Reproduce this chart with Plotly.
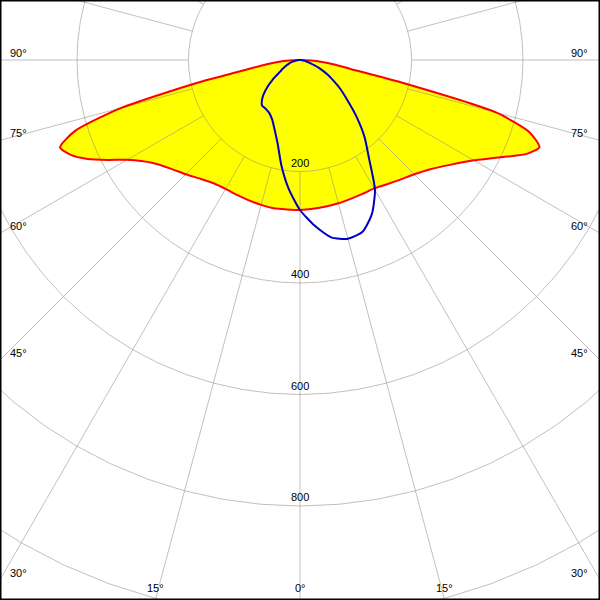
import numpy as np
import plotly.graph_objects as go

# Gamma angles (degrees from nadir)
gamma = [0, 5, 10, 15, 20, 25, 30, 35, 40, 45, 50, 55, 60, 62.5, 65, 67.5,
         70, 72.5, 75, 77.5, 80, 82.5, 85, 87.5, 90]

# Luminous intensity (cd) per half-plane
c0 = [269, 268, 267, 266, 265, 265, 266, 272, 280, 290, 305, 328, 360, 383, 410, 440,
      457, 432, 365, 185, 92, 62, 40, 20, 0]
c180 = [269, 269, 270, 269, 268, 267, 267, 270, 278, 290, 303, 322, 358, 388, 420, 445,
        458, 423, 332, 190, 95, 62, 40, 20, 0]
c90 = [269, 298, 323, 332, 328, 305, 269, 216, 180, 143, 110, 86, 64, 55, 45, 36,
       27, 21, 16, 12, 9, 6, 4, 2, 0]
c270 = [269, 232, 192, 155, 133, 118, 110, 107, 106, 95, 77, 58, 40, 36, 31, 27,
        23, 20, 17, 13, 10, 7, 5, 2, 0]

ring_values = [200, 400, 600, 800, 1000, 1200]
ring_labels = ["200", "400", "600", "800"]
side_angles = [90, 75, 60, 45, 30]
bottom_angles = [-15, 0, 15]

# view geometry (px per cd, center in pixels)
S = 0.5575
XMAX = 300 / S
YTOP = 60 / S
YBOT = 540 / S


def half(vals, sign):
    g = np.radians(np.array(gamma))
    r = np.array(vals, dtype=float)
    return sign * r * np.sin(g), -r * np.cos(g)


def plane(right_vals, left_vals):
    xr, yr = half(right_vals, 1)
    xl, yl = half(left_vals, -1)
    x = np.concatenate([xl[::-1], xr[1:]])
    y = np.concatenate([yl[::-1], yr[1:]])
    return x, y


fig = go.Figure()

xr_, yr_ = plane(c0, c180)
fig.add_trace(go.Scatter(x=xr_, y=yr_, mode="lines", fill="toself",
                         fillcolor="#FFFF00", line=dict(width=0, shape="spline", smoothing=0.6),
                         hoverinfo="skip", showlegend=False))

grid_col = "rgba(140,140,140,0.55)"
# rings
t = np.radians(np.arange(0, 360.1, 5))
for rv in ring_values:
    fig.add_trace(go.Scatter(x=rv * np.sin(t), y=-rv * np.cos(t), mode="lines",
                             line=dict(color=grid_col, width=1),
                             hoverinfo="skip", showlegend=False))
# spokes
for a in range(0, 360, 15):
    ar = np.radians(a)
    fig.add_trace(go.Scatter(x=[200 * np.sin(ar), 1400 * np.sin(ar)],
                             y=[-200 * np.cos(ar), -1400 * np.cos(ar)],
                             mode="lines", line=dict(color=grid_col, width=1),
                             hoverinfo="skip", showlegend=False))

fig.add_trace(go.Scatter(x=xr_, y=yr_, mode="lines",
                         line=dict(color="#FF0000", width=2, shape="spline", smoothing=0.6),
                         hoverinfo="skip", showlegend=False))
xb, yb = plane(c90, c270)
fig.add_trace(go.Scatter(x=xb, y=yb, mode="lines",
                         line=dict(color="#0000C0", width=2, shape="spline", smoothing=0.6),
                         hoverinfo="skip", showlegend=False))

font = dict(family="Liberation Sans, Arial, sans-serif", size=11, color="black")
ann = []
for lab in ring_labels:
    ann.append(dict(x=0, y=-float(lab), text=lab, showarrow=False, xanchor="center",
                    yanchor="bottom", yshift=1, font=font))
for a in side_angles:
    ye = -XMAX / np.tan(np.radians(a)) if a != 90 else 0.0
    ann.append(dict(x=-XMAX, y=ye, text=f"{a}°", showarrow=False, xanchor="left",
                    yanchor="middle", xshift=8, yshift=7, font=font))
    ann.append(dict(x=XMAX, y=ye, text=f"{a}°", showarrow=False, xanchor="right",
                    yanchor="middle", xshift=-10, yshift=7, font=font))
for a in bottom_angles:
    xe = YBOT * np.tan(np.radians(a))
    ann.append(dict(x=xe, y=-YBOT, text=f"{abs(a)}°", showarrow=False, xanchor="center",
                    yanchor="middle", yshift=12, font=font))

fig.update_layout(
    width=600, height=600, margin=dict(l=0, r=0, t=0, b=0),
    paper_bgcolor="white", plot_bgcolor="white",
    xaxis=dict(range=[-XMAX, XMAX], visible=False, fixedrange=True),
    yaxis=dict(range=[-YBOT, YTOP], visible=False, fixedrange=True),
    annotations=ann,
    shapes=[dict(type="rect", xref="paper", yref="paper", x0=0, y0=0, x1=1, y1=1,
                 line=dict(color="black", width=3))],
)

fig.write_html("out.html", config={"displayModeBar": False},
               post_script="document.body.style.margin='0';document.body.style.overflow='hidden';")
